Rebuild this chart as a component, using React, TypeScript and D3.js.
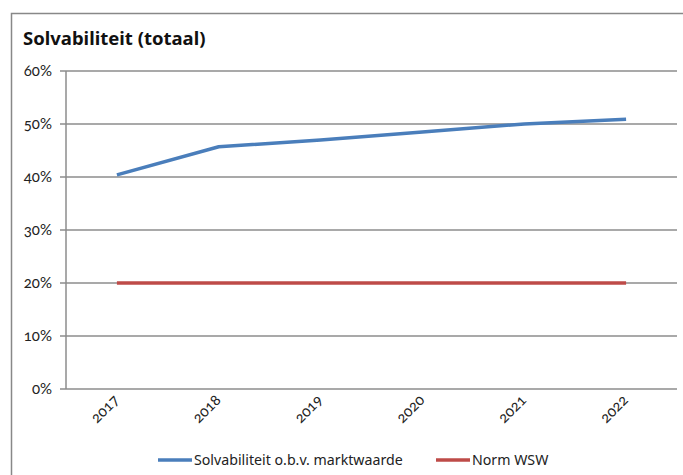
import React, { useEffect, useRef } from "react";
import * as d3 from "d3";

const years = ["2017", "2018", "2019", "2020", "2021", "2022"];
const solvabiliteit = [0.404, 0.457, 0.47, 0.485, 0.5, 0.509];
const normWSW = [0.2, 0.2, 0.2, 0.2, 0.2, 0.2];
const yTicks = [0, 0.1, 0.2, 0.3, 0.4, 0.5, 0.6];
const seriesNames = ["Solvabiliteit o.b.v. marktwaarde", "Norm WSW"];
const seriesColors = ["#4a7ebb", "#be4b48"];

const W = 683;
const H = 475;
const plot = { left: 66, right: 677, top: 71, bottom: 389 };
const FONT = "'Noto Sans', 'Open Sans', sans-serif";
const NUM_FONT = "Lato, 'Noto Sans', sans-serif";

export default function App() {
  const ref = useRef<SVGSVGElement>(null);

  useEffect(() => {
    const svg = d3.select(ref.current);
    svg.selectAll("*").remove();

    // outer frame
    svg
      .append("rect")
      .attr("x", 11.5)
      .attr("y", 13.5)
      .attr("width", 690)
      .attr("height", 480)
      .attr("fill", "#fff")
      .attr("stroke", "#888")
      .attr("stroke-width", 1.5);

    svg
      .append("text")
      .attr("x", 23)
      .attr("y", 45)
      .attr("font-family", FONT)
      .attr("font-weight", "bold")
      .attr("font-size", 18.5)
      .attr("fill", "#111")
      .text("Solvabiliteit (totaal)");

    const x = d3
      .scaleBand<string>()
      .domain(years)
      .range([plot.left, plot.right]);
    const y = d3.scaleLinear().domain([0, 0.6]).range([plot.bottom, plot.top]);
    const cx = (d: string) => (x(d) ?? 0) + x.bandwidth() / 2;

    // gridlines
    svg
      .append("g")
      .selectAll("line")
      .data(yTicks)
      .join("line")
      .attr("x1", plot.left - 6)
      .attr("x2", plot.right)
      .attr("y1", (d) => y(d))
      .attr("y2", (d) => y(d))
      .attr("stroke", "#8c8c8c")
      .attr("stroke-width", 1.5);

    // y axis line
    svg
      .append("line")
      .attr("x1", plot.left)
      .attr("x2", plot.left)
      .attr("y1", plot.top)
      .attr("y2", plot.bottom)
      .attr("stroke", "#8c8c8c")
      .attr("stroke-width", 1.5);

    // y labels
    svg
      .append("g")
      .selectAll("text")
      .data(yTicks)
      .join("text")
      .attr("x", 52)
      .attr("y", (d) => y(d) + 5)
      .attr("text-anchor", "end")
      .attr("font-family", NUM_FONT)
      .attr("font-size", 15)
      .attr("fill", "#222")
      .style("font-variant-numeric", "oldstyle-nums")
      .style("font-feature-settings", "'onum' 1")
      .text((d) => d3.format(".0%")(d));

    // x labels
    svg
      .append("g")
      .selectAll("text")
      .data(years)
      .join("text")
      .attr("transform", (d) => `translate(${cx(d) + 3},${plot.bottom + 12}) rotate(-45)`)
      .attr("text-anchor", "end")
      .attr("font-family", NUM_FONT)
      .attr("font-size", 15)
      .attr("fill", "#222")
      .style("font-variant-numeric", "oldstyle-nums")
      .style("font-feature-settings", "'onum' 1")
      .text((d) => d);

    const line = d3
      .line<number>()
      .x((_, i) => cx(years[i]))
      .y((d) => y(d));

    [normWSW, solvabiliteit].forEach((vals, k) => {
      const idx = k === 0 ? 1 : 0;
      svg
        .append("path")
        .attr("d", line(vals) ?? "")
        .attr("fill", "none")
        .attr("stroke", seriesColors[idx])
        .attr("stroke-width", 3.5)
        .attr("stroke-linejoin", "round");
    });

    // legend
    const legendItems = [
      { x: 158, name: seriesNames[0], color: seriesColors[0] },
      { x: 436, name: seriesNames[1], color: seriesColors[1] },
    ];
    const lg = svg.append("g");
    legendItems.forEach((it) => {
      lg.append("line")
        .attr("x1", it.x)
        .attr("x2", it.x + 34)
        .attr("y1", 460)
        .attr("y2", 460)
        .attr("stroke", it.color)
        .attr("stroke-width", 3.5);
      lg.append("text")
        .attr("x", it.x + 36)
        .attr("y", 465)
        .attr("font-family", FONT)
        .attr("font-size", 14.2)
        .attr("fill", "#222")
        .text(it.name);
    });
  }, []);

  return (
    <svg
      ref={ref}
      width={W}
      height={H}
      style={{ position: "absolute", left: 0, top: 0, display: "block", background: "#fff" }}
    />
  );
}
